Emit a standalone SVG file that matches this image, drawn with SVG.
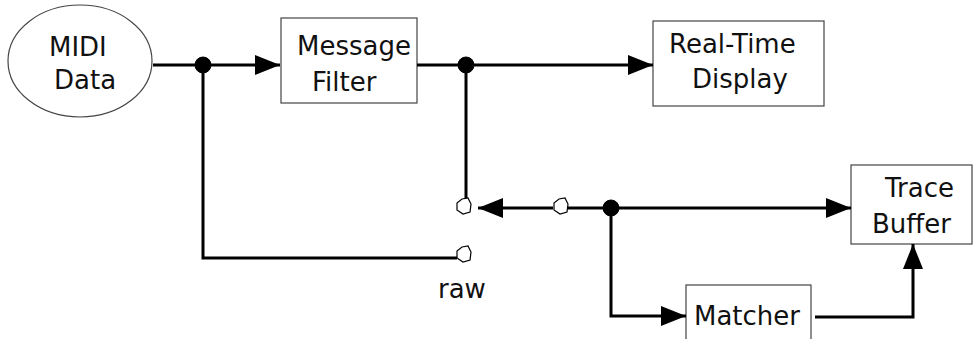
<svg xmlns="http://www.w3.org/2000/svg" width="975" height="339" viewBox="0 0 975 339">
<defs>
<style>
.box{fill:#fff;stroke:#444;stroke-width:1.2}
.lbl{font-family:"DejaVu Sans",sans-serif;font-size:26px;fill:#111}
.wire{fill:none;stroke:#000;stroke-width:3}
.dot{fill:#000;stroke:#000;stroke-width:1}
.open{fill:#fff;stroke:#000;stroke-width:1.2}
</style>
<marker id="ah" markerUnits="userSpaceOnUse" markerWidth="26" markerHeight="20" refX="25" refY="10" orient="auto" viewBox="0 0 26 20">
<path d="M0,0 L25,10 L0,20 z" fill="#000"/>
</marker>
</defs>
<rect width="975" height="339" fill="#fff"/>
<g id="midi">
<ellipse cx="80" cy="61" rx="72" ry="56" class="box"/>
<text class="lbl" x="49" y="56">MIDI</text>
<text class="lbl" x="54" y="89">Data</text>
</g>
<g id="filter">
<rect x="281" y="18" width="136" height="85" class="box"/>
<text class="lbl" x="297" y="55">Message</text>
<text class="lbl" x="312" y="91">Filter</text>
</g>
<g id="display">
<rect x="653" y="21" width="171" height="85" class="box"/>
<text class="lbl" x="669" y="53">Real-Time</text>
<text class="lbl" x="692" y="88">Display</text>
</g>
<g id="trace">
<rect x="851" y="165" width="121" height="79" class="box"/>
<text class="lbl" x="885" y="197">Trace</text>
<text class="lbl" x="872" y="233">Buffer</text>
</g>
<g id="matcher">
<rect x="686" y="285" width="125" height="70" class="box"/>
<text class="lbl" x="694" y="325">Matcher</text>
</g>
<g id="raw-label">
<text class="lbl" x="438" y="298">raw</text>
</g>
<g id="connectors">
<path class="wire" d="M153,65 H280" marker-end="url(#ah)"/>
<path class="wire" d="M203,65 V258 H457"/>
<path class="wire" d="M417,65 H653" marker-end="url(#ah)"/>
<path class="wire" d="M466,65 V199"/>
<path class="wire" d="M553,208 H478" marker-end="url(#ah)"/>
<path class="wire" d="M568,208 H851" marker-end="url(#ah)"/>
<path class="wire" d="M611,208 V316 H686" marker-end="url(#ah)"/>
<path class="wire" d="M815,317 H913 V244" marker-end="url(#ah)"/>
<circle class="dot" cx="203" cy="65" r="8"/>
<circle class="dot" cx="466" cy="65" r="8"/>
<circle class="dot" cx="611" cy="208" r="8"/>
<path class="open" d="M462,199 L468,198 L471,204 L470,212 L463,214 L457,210 L457,203 Z"/>
<path class="open" d="M559,199 L565,198 L568,204 L567,212 L560,214 L554,210 L554,203 Z"/>
<path class="open" d="M462,247 L468,246 L471,252 L470,260 L463,262 L457,258 L457,251 Z"/>
</g>
</svg>
